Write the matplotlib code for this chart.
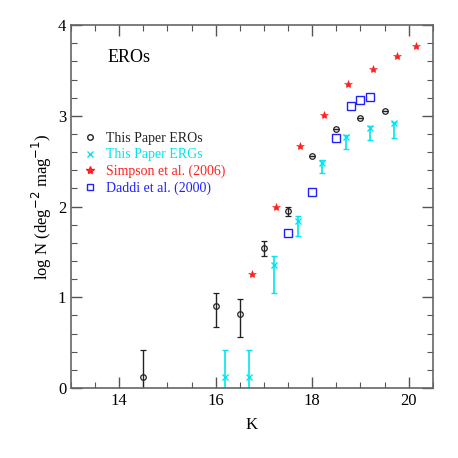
import numpy as np
import matplotlib
matplotlib.use("Agg")
import matplotlib.pyplot as plt
from matplotlib.lines import Line2D
from matplotlib.ticker import MultipleLocator

plt.rcParams['font.family'] = ['Liberation Serif', 'DejaVu Serif']

# This Paper EROs
ero_k = [14.5, 16.0, 16.5, 17.0, 17.5, 18.0, 18.5, 19.0, 19.5]
ero_n = [0.125, 0.90, 0.82, 1.54, 1.95, 2.56, 2.85, 2.98, 3.05]
ero_up = [0.42, 1.05, 0.98, 1.62, 2.00, 2.56, 2.85, 2.98, 3.05]
ero_lo = [-0.5, 0.675, 0.565, 1.45, 1.90, 2.56, 2.85, 2.98, 3.05]

# This Paper ERGs
erg_k = [16.2, 16.7, 17.2, 17.7, 18.2, 18.7, 19.2, 19.7]
erg_n = [0.125, 0.125, 1.36, 1.84, 2.48, 2.77, 2.87, 2.92]
erg_up = [0.42, 0.42, 1.45, 1.895, 2.51, 2.79, 2.89, 2.93]
erg_lo = [-0.5, -0.5, 1.05, 1.67, 2.37, 2.64, 2.73, 2.76]

# Simpson et al. (2006)
simp_k = [16.75, 17.25, 17.75, 18.25, 18.75, 19.25, 19.75, 20.15]
simp_n = [1.26, 1.99, 2.67, 3.01, 3.35, 3.52, 3.66, 3.77]

# Daddi et al. (2000)
dad_k = [17.5, 18.0, 18.5, 18.8, 19.0, 19.2]
dad_n = [1.71, 2.16, 2.76, 3.11, 3.17, 3.21]

fig = plt.figure(figsize=(4.58, 4.58), dpi=100)
ax = fig.add_axes([0.155, 0.153, 0.79, 0.792])

ero_err = [np.array(ero_n) - np.array(ero_lo), np.array(ero_up) - np.array(ero_n)]
erg_err = [np.array(erg_n) - np.array(erg_lo), np.array(erg_up) - np.array(erg_n)]

ax.errorbar(ero_k, ero_n, yerr=ero_err, fmt='o', mfc='none', mec='#222222',
            ecolor='#222222', ms=4, mew=0.9, elinewidth=1.0, capsize=2.5, capthick=1.0)
ax.errorbar(erg_k, erg_n, yerr=erg_err, fmt='x', color='#00e5ee',
            ms=4, mew=1.0, elinewidth=1.2, capsize=2.5, capthick=1.2)
ax.plot(simp_k, simp_n, '*', color='#ff2020', ms=6, mew=0.4, linestyle='none')
ax.plot(dad_k, dad_n, 's', mfc='none', mec='#2020ff', ms=5.5, mew=1.0, linestyle='none')

ax.set_xlim(13, 20.5)
ax.set_ylim(0, 4)
ax.xaxis.set_major_locator(MultipleLocator(2))
ax.xaxis.set_minor_locator(MultipleLocator(0.5))
ax.yaxis.set_major_locator(MultipleLocator(1))
ax.yaxis.set_minor_locator(MultipleLocator(0.2))
ax.tick_params(which='both', direction='in', top=True, right=True, color='#555555',
               labelsize=12)
ax.tick_params(which='major', length=8, width=1)
ax.tick_params(which='minor', length=4, width=0.8)
for s in ax.spines.values():
    s.set_color('#666666')
    s.set_linewidth(1.2)

ax.set_xlabel('K', fontsize=12, labelpad=6)
ax.set_ylabel(r'log N (deg$^{-2}$ mag$^{-1}$)', fontsize=12, labelpad=3)

ax.text(0.1, 0.912, 'EROs', transform=ax.transAxes, fontsize=13, va='center')

handles = [
    Line2D([], [], marker='o', mfc='none', mec='#222222', ms=4, ls='none'),
    Line2D([], [], marker='x', color='#00e5ee', ms=4, ls='none'),
    Line2D([], [], marker='*', color='#ff2020', ms=6, ls='none'),
    Line2D([], [], marker='s', mfc='none', mec='#2020ff', ms=4.5, ls='none'),
]
labels = ['This Paper EROs', 'This Paper ERGs', 'Simpson et al. (2006)', 'Daddi et al. (2000)']
leg = ax.legend(handles, labels, loc='upper left', bbox_to_anchor=(0.0, 0.74),
                frameon=False, fontsize=10, handlelength=1.0, handletextpad=0.6,
                labelspacing=0.25, labelcolor=['#222222', '#00e5ee', '#ff2020', '#2020ff'])

fig.savefig('out.png', dpi=100)
